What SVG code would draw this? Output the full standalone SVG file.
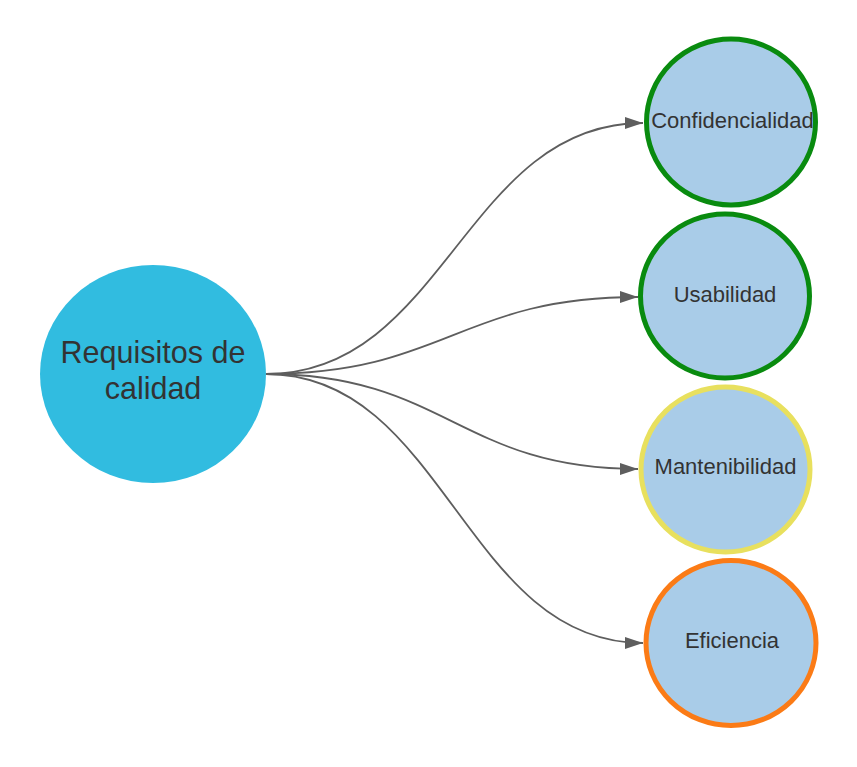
<svg xmlns="http://www.w3.org/2000/svg" width="857" height="767" viewBox="0 0 857 767">
<style>
.sub{fill:#a9cce8;stroke-width:5}
.lbl{font-family:"Liberation Sans",Arial,sans-serif;fill:#333333;text-anchor:middle}
.s{font-size:22px}
.m{font-size:30.5px}
.c{fill:none;stroke:#5e5e5e;stroke-width:1.8;marker-end:url(#ah)}
</style>
<defs>
<marker id="ah" markerUnits="userSpaceOnUse" markerWidth="20" markerHeight="14" refX="18" refY="6" orient="auto">
<path d="M0,0 L18,6 L0,12 Z" fill="#5e5e5e"/>
</marker>
</defs>
<rect width="857" height="767" fill="#ffffff"/>
<g id="connectors">
<path class="c" d="M266,374 C445,374 465,123 643,123"/>
<path class="c" d="M266,374 C445,374 460,297 638,297"/>
<path class="c" d="M266,374 C445,374 460,469 638,469"/>
<path class="c" d="M266,374 C445,374 465,643 643,643"/>
</g>
<g id="requisitos">
<ellipse cx="153" cy="374" rx="113" ry="109" fill="#31bce0"/>
<text class="lbl m" x="153" y="363">Requisitos de</text>
<text class="lbl m" x="153" y="399">calidad</text>
</g>
<g id="confidencialidad">
<ellipse class="sub" cx="731" cy="122" rx="84.5" ry="83" stroke="#098b0f"/>
<text class="lbl s" x="732.5" y="128">Confidencialidad</text>
</g>
<g id="usabilidad">
<ellipse class="sub" cx="725" cy="296" rx="84.5" ry="82" stroke="#098b0f"/>
<text class="lbl s" x="725" y="302">Usabilidad</text>
</g>
<g id="mantenibilidad">
<ellipse class="sub" cx="725.5" cy="469.5" rx="84.5" ry="82.5" stroke="#e8e05e"/>
<text class="lbl s" x="725.5" y="474">Mantenibilidad</text>
</g>
<g id="eficiencia">
<ellipse class="sub" cx="731" cy="643" rx="85" ry="82.5" stroke="#fb7b16"/>
<text class="lbl s" x="732" y="647.5">Eficiencia</text>
</g>
</svg>
